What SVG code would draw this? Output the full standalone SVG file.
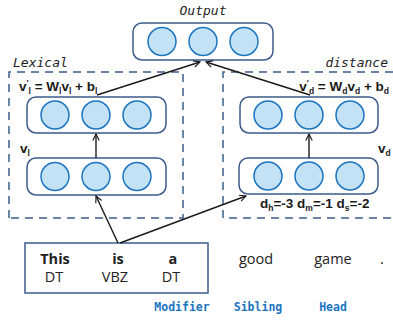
<svg xmlns="http://www.w3.org/2000/svg" width="393" height="320" viewBox="0 0 393 320">
<defs>
<style>
.layer{fill:#fff;stroke:#3d5b8c;stroke-width:1.5}
.unit{fill:#c3e2f6;stroke:#1b74bf;stroke-width:1.5}
.dash{fill:none;stroke:#3d5b8c;stroke-width:1.5;stroke-dasharray:8,6}
.conn{fill:none;stroke:#1a1a1a;stroke-width:1.4;marker-end:url(#arr)}
.mono{font-family:"DejaVu Sans Mono","Liberation Mono",monospace;font-style:italic;font-size:13px;fill:#222}
.f{font-family:"Liberation Sans",Arial,sans-serif;font-weight:bold;font-size:13.5px;fill:#1a1a1a}
.sub{font-size:8.5px}
.w{font-family:"Open Sans","Noto Sans",sans-serif;font-size:14.5px;fill:#222}
.wb{font-family:"Open Sans","Noto Sans",sans-serif;font-size:14.5px;font-weight:bold;fill:#222}
.role{font-family:"DejaVu Sans Mono","Liberation Mono",monospace;font-weight:bold;font-size:11.5px;fill:#1b74bf}
</style>
<marker id="arr" viewBox="0 0 10 10" refX="9" refY="5" markerWidth="8" markerHeight="8" orient="auto" markerUnits="userSpaceOnUse">
<path d="M1,1 L9,5 L1,9" fill="none" stroke="#1a1a1a" stroke-width="1.4"/>
</marker>
</defs>

<g id="lexical-frame">
<path class="dash" d="M9,218 L9,72 L183,72 L183,218 Z"/>
<text class="mono" x="13" y="67">Lexical</text>
</g>
<g id="distance-frame">
<path class="dash" d="M393,72 L223,72 L223,218 L393,218"/>
<text class="mono" x="388" y="67" text-anchor="end">distance</text>
</g>

<g id="output">
<text class="mono" x="203" y="15" text-anchor="middle">Output</text>
<rect class="layer" x="133" y="23" width="140" height="37" rx="9"/>
<circle class="unit" cx="162" cy="41.5" r="14"/>
<circle class="unit" cx="203" cy="41.5" r="14"/>
<circle class="unit" cx="244" cy="41.5" r="14"/>
</g>

<g id="lexical-upper">
<rect class="layer" x="27" y="97" width="139" height="36" rx="9"/>
<circle class="unit" cx="55" cy="115" r="14"/>
<circle class="unit" cx="96" cy="115" r="14"/>
<circle class="unit" cx="137" cy="115" r="14"/>
<text class="f" x="19" y="91">v<tspan dy="-5" class="sub">'</tspan><tspan dy="8" class="sub">l</tspan><tspan dy="-3"> = W</tspan><tspan dy="3" class="sub">l</tspan><tspan dy="-3">v</tspan><tspan dy="3" class="sub">l</tspan><tspan dy="-3"> + b</tspan><tspan dy="3" class="sub">l</tspan></text>
</g>

<g id="lexical-lower">
<rect class="layer" x="27" y="158" width="139" height="37" rx="9"/>
<circle class="unit" cx="55" cy="176.5" r="14"/>
<circle class="unit" cx="96" cy="176.5" r="14"/>
<circle class="unit" cx="137" cy="176.5" r="14"/>
<text class="f" x="20" y="153">v<tspan dy="3" class="sub">l</tspan></text>
</g>

<g id="distance-upper">
<rect class="layer" x="240" y="97" width="138" height="36" rx="9"/>
<circle class="unit" cx="268" cy="115" r="14"/>
<circle class="unit" cx="309" cy="115" r="14"/>
<circle class="unit" cx="350" cy="115" r="14"/>
<text class="f" x="389" y="91" text-anchor="end">v<tspan dy="-5" class="sub">'</tspan><tspan dy="8" class="sub">d</tspan><tspan dy="-3"> = W</tspan><tspan dy="3" class="sub">d</tspan><tspan dy="-3">v</tspan><tspan dy="3" class="sub">d</tspan><tspan dy="-3"> + b</tspan><tspan dy="3" class="sub">d</tspan></text>
</g>

<g id="distance-lower">
<rect class="layer" x="239" y="158" width="139" height="36" rx="9"/>
<circle class="unit" cx="268" cy="176" r="14"/>
<circle class="unit" cx="309" cy="176" r="14"/>
<circle class="unit" cx="350" cy="176" r="14"/>
<text class="f" x="378" y="153">v<tspan dy="3" class="sub">d</tspan></text>
<text class="f" x="260" y="208">d<tspan dy="3" class="sub">h</tspan><tspan dy="-3">=-3 d</tspan><tspan dy="3" class="sub">m</tspan><tspan dy="-3">=-1 d</tspan><tspan dy="3" class="sub">s</tspan><tspan dy="-3">=-2</tspan></text>
</g>

<g id="sentence">
<rect x="25" y="243" width="183" height="50" fill="#fff" stroke="#3d5b8c" stroke-width="1.5"/>
<text class="wb" x="55" y="264" text-anchor="middle">This</text>
<text class="wb" x="118" y="264" text-anchor="middle">is</text>
<text class="wb" x="173" y="264" text-anchor="middle">a</text>
<text class="w" x="54" y="282" text-anchor="middle">DT</text>
<text class="w" x="115" y="282" text-anchor="middle">VBZ</text>
<text class="w" x="171" y="282" text-anchor="middle">DT</text>
<text class="w" x="256" y="264" text-anchor="middle">good</text>
<text class="w" x="333" y="264" text-anchor="middle">game</text>
<text class="w" x="382" y="264" text-anchor="middle">.</text>
</g>

<g id="roles">
<text class="role" x="182" y="311" text-anchor="middle">Modifier</text>
<text class="role" x="258" y="311" text-anchor="middle">Sibling</text>
<text class="role" x="333" y="311" text-anchor="middle">Head</text>
</g>

<g id="connectors">
<line class="conn" x1="96" y1="158" x2="96" y2="134"/>
<line class="conn" x1="309" y1="158" x2="309" y2="134"/>
<line class="conn" x1="97" y1="95" x2="200" y2="62"/>
<line class="conn" x1="310" y1="95" x2="206" y2="62"/>
<line class="conn" x1="118" y1="243" x2="96" y2="196"/>
<line class="conn" x1="120" y1="243" x2="246" y2="196"/>
</g>
</svg>
